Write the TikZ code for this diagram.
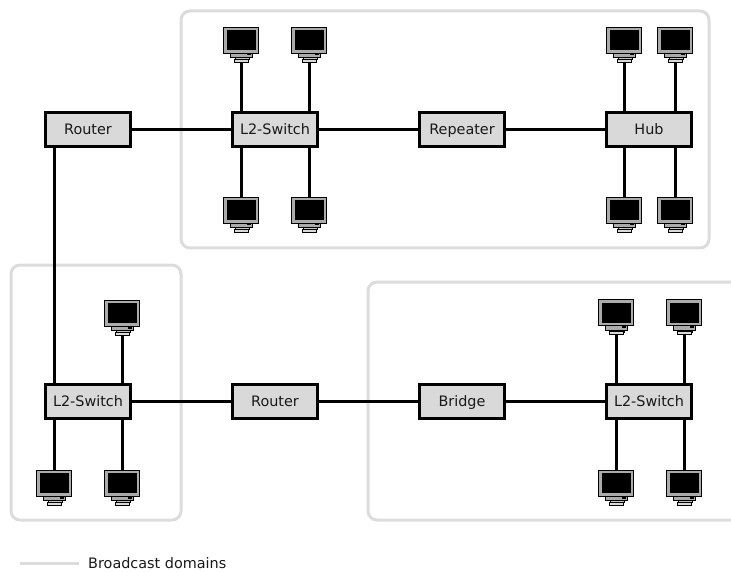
\documentclass[tikz,border=0pt]{standalone}
\usepackage{fontspec}
\setmainfont{DejaVu Sans}
\definecolor{domain}{HTML}{DCDCDC}
\definecolor{boxfill}{HTML}{D9D9D9}
\definecolor{monitorgrey}{HTML}{ABABAB}
\tikzset{
  device/.style={draw=black,fill=boxfill,line width=3pt,minimum width=84.5pt,minimum height=34pt,inner sep=0pt,font=\fontsize{14.4pt}{16pt}\selectfont,text=black!90,text height=10.5pt,text depth=0pt},
  domainbox/.style={draw=domain,line width=3pt,rounded corners=9pt},
  link/.style={draw=black,line width=3pt},
  pcnode/.style={minimum width=36pt,minimum height=35pt,inner sep=0pt,outer sep=0pt},
  legendtext/.style={font=\fontsize{14.4pt}{16pt}\selectfont,text=black!90,anchor=west,inner sep=0pt}
}
\newcommand{\pcunit}[3]{%
  % #2,#3 = centre of the monitor
  \node[pcnode] (#1) at (#2,#3+4.7) {};
  \begin{scope}[shift={(#2,#3)}]
    \draw[fill=monitorgrey,line width=.6pt] (-11,13) rectangle (11,17.5);
    \draw[fill=monitorgrey!70,line width=.6pt] (-6,17.5) rectangle (8,19.5);
    \draw[fill=boxfill,line width=.6pt] (-7,19) rectangle (7,22);
    \fill[black] (6,13.5) rectangle (10,15.5);
    \draw[fill=monitorgrey,line width=.8pt] (-17.5,-13) rectangle (17.5,13);
    \fill[black] (-14.5,-10) rectangle (14.5,10);
  \end{scope}%
}
\begin{document}
\begin{tikzpicture}[x=1pt,y=-1pt]
\useasboundingbox (0,0) rectangle (731,572);
% broadcast domains
\begin{scope}
  \clip (0,0) rectangle (731,572);
  \draw[domainbox] (181,11) rectangle (709,248);
  \draw[domainbox] (11,265) rectangle (181,520);
  \draw[domainbox] (368,282) rectangle (760,520);
\end{scope}
\coordinate (legA) at (20,563.5);
\coordinate (legB) at (79,563.5);
\draw[draw=domain,line width=3pt] (legA) -- (legB);
\node[legendtext] (legend) at (88,563.5) {Broadcast domains};
% devices
\node[device] (r1) at (88,129.5) {Router};
\node[device] (s1) at (275,129.5) {L2-Switch};
\node[device] (rp) at (462,129.5) {Repeater};
\node[device] (hub) at (649,129.5) {Hub};
\node[device] (s2) at (88,401.5) {L2-Switch};
\node[device] (r2) at (275,401.5) {Router};
\node[device] (br) at (462,401.5) {Bridge};
\node[device] (s3) at (649,401.5) {L2-Switch};
% computers
\pcunit{a1}{241}{40}
\pcunit{a2}{309}{40}
\pcunit{a3}{241}{210}
\pcunit{a4}{309}{210}
\pcunit{b1}{624}{40}
\pcunit{b2}{675}{40}
\pcunit{b3}{624}{210}
\pcunit{b4}{675}{210}
\pcunit{c1}{122}{313}
\pcunit{c2}{54}{483}
\pcunit{c3}{122}{483}
\pcunit{d1}{616}{312.5}
\pcunit{d2}{684}{312.5}
\pcunit{d3}{616}{483}
\pcunit{d4}{684}{483}
% links
\draw[link] (r1) -- (s1);
\draw[link] (s1) -- (rp);
\draw[link] (rp) -- (hub);
\draw[link] (s2) -- (r2);
\draw[link] (r2) -- (br);
\draw[link] (br) -- (s3);
\draw[link] ([xshift=-34pt]r1.south) -- ([xshift=-34pt]s2.north);
\draw[link] (a1.south) -- (a1.south |- s1.north);
\draw[link] (a2.south) -- (a2.south |- s1.north);
\draw[link] (a3.north) -- (a3.north |- s1.south);
\draw[link] (a4.north) -- (a4.north |- s1.south);
\draw[link] (b1.south) -- (b1.south |- hub.north);
\draw[link] (b2.south) -- (b2.south |- hub.north);
\draw[link] (b3.north) -- (b3.north |- hub.south);
\draw[link] (b4.north) -- (b4.north |- hub.south);
\draw[link] (c1.south) -- (c1.south |- s2.north);
\draw[link] (c2.north) -- (c2.north |- s2.south);
\draw[link] (c3.north) -- (c3.north |- s2.south);
\draw[link] (d1.south) -- (d1.south |- s3.north);
\draw[link] (d2.south) -- (d2.south |- s3.north);
\draw[link] (d3.north) -- (d3.north |- s3.south);
\draw[link] (d4.north) -- (d4.north |- s3.south);
\end{tikzpicture}
\end{document}
